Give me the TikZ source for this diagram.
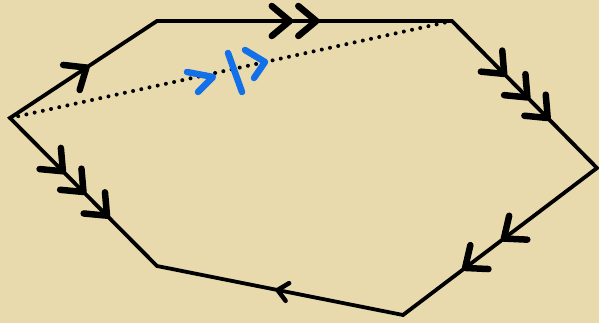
\documentclass[tikz,border=0pt]{standalone}
\usepackage{xcolor}
\usetikzlibrary{decorations.markings}
\definecolor{parchment}{RGB}{233,218,174}
\definecolor{penblue}{RGB}{18,112,232}

\begin{document}
\begin{tikzpicture}[x=1pt,y=1pt,
  edge/.style={line width=3.8pt,line join=miter},
  tipline/.style={line width=6.5pt,line cap=round,line join=round},
  mk/.style={postaction={decorate,decoration={markings,
    mark=at position #1 with {\draw[tipline] (-18,15)--(0,0)--(-18,-15);}}}},
  mks/.style={postaction={decorate,decoration={markings,
    mark=at position #1 with {\draw[tipline,line width=4.5pt] (-10,9)--(0,0)--(-10,-9);}}}},
  pen/.style={penblue,line width=6.5pt,line cap=round,line join=round}]
  \fill[parchment] (0,0) rectangle (599,323);
  \useasboundingbox (0,0) rectangle (599,323);
  \coordinate (A) at (10,205);
  \coordinate (B) at (157,302);
  \coordinate (C) at (452,302);
  \coordinate (D) at (597,155);
  \coordinate (E) at (403,8);
  \coordinate (F) at (157,57);
  \draw[edge] (A)--(B)--(C)--(D)--(E)--(F)--cycle;
  \draw[line width=4pt,line cap=round,dash pattern=on 0pt off 8.4pt] (A)--(C);
  % edge markers
  \path[mk=0.52] (A)--(B);
  \path[mk=0.45,mk=0.54] (B)--(C);
  \path[mk=0.36,mk=0.52,mk=0.66] (C)--(D);
  \path[mk=0.48,mk=0.68] (D)--(E);
  \path[mks=0.51] (E)--(F);
  \path[mk=0.36,mk=0.5,mk=0.66] (A)--(F);
  % blue marks on the diagonal
  \draw[pen] (187,251)--(213,246)--(198,231);
  \draw[pen] (228,270)--(242,231);
  \draw[pen] (245,273)--(265,261)--(254,245);
\end{tikzpicture}
\end{document}
